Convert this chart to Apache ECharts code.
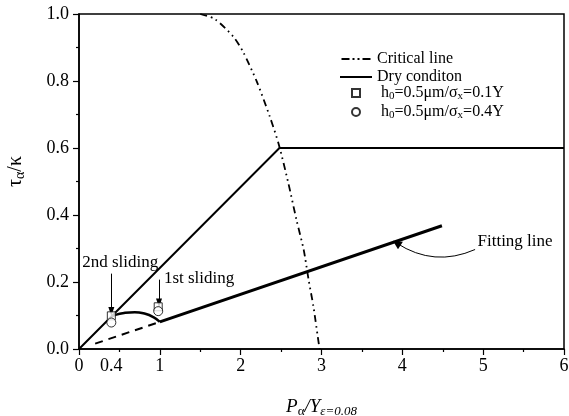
<!DOCTYPE html>
<html>
<head>
<meta charset="utf-8">
<script src="https://cdn.jsdelivr.net/npm/echarts@6/dist/echarts.min.js"></script>
<style>html,body{margin:0;padding:0;background:#fff}#c{width:569px;height:416px}</style>
</head>
<body>
<div id="c"></div>
<script>
// ---- data ----
var xLabelValues = [0, 0.4, 1, 2, 3, 4, 5, 6];
var criticalLine = [[1.50,1.00],[1.68,0.985],[1.91,0.932],[2.03,0.887],[2.20,0.798],[2.36,0.694],[2.47,0.612],[2.59,0.495],[2.69,0.386],[2.78,0.296],[2.84,0.207],[2.90,0.127],[2.97,0.010],[2.98,0.0]];
var dryCondition = [[0,0],[2.48,0.6],[6,0.6]];
var squares01Y = [[0.4,0.099],[0.98,0.126]];
var circles04Y = [[0.4,0.079],[0.98,0.113]];
var humpCurve = [[0.4,0.096],[0.45,0.102],[0.57,0.108],[0.69,0.110],[0.82,0.105],[0.92,0.095],[1.0,0.081]];
var fittingSolid = [[1.0,0.081],[4.49,0.368]];
var fittingDashed = [[0.2,0.016],[1.0,0.081]];
var arrow2nd = [[0.4,0.225],[0.4,0.112]];
var arrow1st = [[0.99,0.207],[0.99,0.137]];
var arrowFit = [[4.90,0.297],[3.93,0.316]];
var text2nd = [0.51,0.258];
var text1st = [1.05,0.209];
var textFit = [4.93,0.321];

var FONT = '"Liberation Serif", "Times New Roman", serif';
var chart = echarts.init(document.getElementById('c'));
var subRich = {
  n: {fontFamily: FONT, fontSize: 16, color: '#000'},
  sub: {fontFamily: FONT, fontSize: 11, color: '#000', padding: [7,0,0,0]}
};
var annotLabel = function (txt, pos) {
  return {show: true, formatter: txt, position: pos, distance: 0, color: '#000', fontFamily: FONT, fontSize: 17};
};
chart.setOption({
  animation: false,
  backgroundColor: '#fff',
  textStyle: {fontFamily: FONT},
  grid: {left: 79, right: 5, top: 14, bottom: 67, containLabel: false, outerBoundsMode: 'none',
    show: true, borderColor: '#000', borderWidth: 1.5, backgroundColor: 'transparent'},
  xAxis: {
    type: 'value', min: 0, max: 6, interval: 1,
    name: '{p|P}{s|α}{p|/Y}{e|ε=0.08}', nameLocation: 'middle', nameGap: 47,
    nameTextStyle: {rich: {
      p: {fontFamily: FONT, fontSize: 19, fontStyle: 'italic', color: '#000'},
      s: {fontFamily: FONT, fontSize: 13, color: '#000', padding: [9,0,0,0]},
      e: {fontFamily: FONT, fontSize: 13, fontStyle: 'italic', color: '#000', padding: [9,0,0,0]}
    }},
    axisLine: {show: true, lineStyle: {color: '#000', width: 1.5}},
    axisTick: {show: true, inside: false, length: 6, lineStyle: {color: '#000', width: 1.2}},
    minorTick: {show: true, splitNumber: 2, length: 3, lineStyle: {color: '#000', width: 1.2}},
    splitLine: {show: false},
    axisLabel: {customValues: xLabelValues, color: '#000', fontSize: 18, fontFamily: FONT, margin: 8,
      formatter: function (v) { return String(v); }}
  },
  yAxis: {
    type: 'value', min: 0, max: 1.0, interval: 0.2,
    name: '{t|τ}{s|α}{t|/κ}', nameLocation: 'middle', nameGap: 52, nameRotate: 90,
    nameTextStyle: {padding: [0, 0, 0, 20], rich: {
      t: {fontFamily: FONT, fontSize: 20, color: '#000'},
      s: {fontFamily: FONT, fontSize: 14, color: '#000', padding: [9,0,0,0]}
    }},
    axisLine: {show: true, lineStyle: {color: '#000', width: 1.5}},
    axisTick: {show: true, inside: false, length: 6, lineStyle: {color: '#000', width: 1.2}},
    minorTick: {show: true, splitNumber: 2, length: 3, lineStyle: {color: '#000', width: 1.2}},
    splitLine: {show: false},
    axisLabel: {color: '#000', fontSize: 18, fontFamily: FONT, margin: 10,
      formatter: function (v) { return v.toFixed(1); }}
  },
  legend: [{
    data: [
      {name: 'Critical line', icon: 'path://M0,0h8v2h-8zM11,0h2v2h-2zM16,0h2v2h-2zM21,0h8v2h-8z'},
      {name: 'Dry conditon', icon: 'rect'}
    ],
    orient: 'vertical', left: 335, top: 46, itemWidth: 32, itemHeight: 2, itemGap: 2,
    textStyle: {fontFamily: FONT, fontSize: 16, color: '#000', lineHeight: 15}
  }, {
    data: ['sq', 'ci'],
    orient: 'vertical', left: 346, top: 80, itemWidth: 8, itemHeight: 8, itemGap: 2,
    textStyle: {fontFamily: FONT, fontSize: 16, color: '#000', padding: [0,0,0,16], rich: subRich},
    formatter: function (name) {
      return name === 'sq' ? '{n|h}{sub|0}{n|=0.5μm/σ}{sub|x}{n|=0.1Y}' : '{n|h}{sub|0}{n|=0.5μm/σ}{sub|x}{n|=0.4Y}';
    }
  }],
  series: [
    {name: 'Critical line', type: 'line', data: criticalLine, symbol: 'none', z: 2, smooth: 0.25,
     lineStyle: {color: '#000', width: 1.8, type: [7,4,1.6,4,1.6,4]}, itemStyle: {color: '#000'}},
    {name: 'Dry conditon', type: 'line', data: dryCondition, symbol: 'none', z: 2,
     lineStyle: {color: '#000', width: 2}, itemStyle: {color: '#000'}},
    {name: 'hump', type: 'line', data: humpCurve, symbol: 'none', smooth: true, z: 2,
     lineStyle: {color: '#000', width: 2.5}},
    {name: 'fit', type: 'line', data: fittingSolid, symbol: 'none', z: 2,
     lineStyle: {color: '#000', width: 3}},
    {name: 'fitdash', type: 'line', data: fittingDashed, symbol: 'none', z: 2,
     lineStyle: {color: '#000', width: 2, type: [8,6]}},
    {name: 'sq', type: 'scatter', data: squares01Y, symbol: 'rect', symbolSize: 8, z: 5,
     itemStyle: {color: '#fff', borderColor: '#000', borderWidth: 1}},
    {name: 'ci', type: 'scatter', data: circles04Y, symbol: 'circle', symbolSize: 9, z: 5,
     itemStyle: {color: '#fff', borderColor: '#000', borderWidth: 1}},
    {name: 'annot', type: 'line', data: [], symbol: 'none', z: 6,
     markLine: {silent: true, symbol: ['none', 'triangle'], symbolSize: [6, 9], animation: false,
       label: {show: false}, lineStyle: {color: '#000', width: 1, type: 'solid'},
       data: [
         [{coord: arrow2nd[0]}, {coord: arrow2nd[1]}],
         [{coord: arrow1st[0]}, {coord: arrow1st[1]}]
       ]},
     markPoint: {silent: true, symbol: 'circle', symbolSize: 0, animation: false,
       data: [
         {coord: text2nd, label: annotLabel('2nd sliding', 'inside')},
         {coord: text1st, label: annotLabel('1st sliding', 'right')},
         {coord: textFit, label: annotLabel('Fitting line', 'right')}
       ]}
    },
    {name: 'annotCurve', type: 'lines', coordinateSystem: 'cartesian2d', z: 6, silent: true,
     symbol: ['none', 'triangle'], symbolSize: [6, 9],
     lineStyle: {color: '#000', width: 1, type: 'solid', curveness: 0.27, opacity: 1},
     data: [{coords: arrowFit}]
    }
  ]
});
</script>
</body>
</html>
